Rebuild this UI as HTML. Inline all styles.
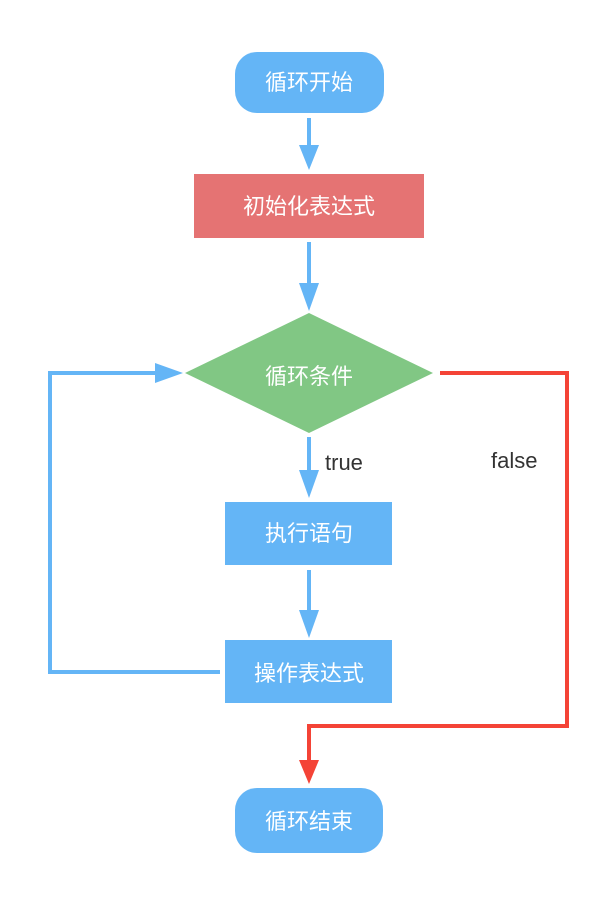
<!DOCTYPE html>
<html><head><meta charset="utf-8"><style>
html,body{margin:0;padding:0;background:#fff;width:615px;height:906px;overflow:hidden}
svg text{font-family:"Liberation Sans","Noto Sans CJK SC",sans-serif}
</style></head><body>
<svg width="615" height="906" viewBox="0 0 615 906" xmlns="http://www.w3.org/2000/svg">
<g stroke="#64b5f6" stroke-width="4" fill="none">
<line x1="309" y1="118" x2="309" y2="147"/>
<line x1="309" y1="242" x2="309" y2="285"/>
<line x1="309" y1="437" x2="309" y2="472"/>
<line x1="309" y1="570" x2="309" y2="612"/>
<polyline points="220,672 50,672 50,373 157,373"/>
</g>
<g fill="#64b5f6">
<polygon points="299,145 319,145 309,170"/>
<polygon points="299,283 319,283 309,311"/>
<polygon points="299,470 319,470 309,498"/>
<polygon points="299,610 319,610 309,638"/>
<polygon points="155,363 155,383 183,373"/>
</g>
<polyline points="440,373 567,373 567,726 309,726 309,762" stroke="#f44336" stroke-width="4" fill="none"/>
<polygon points="299,760 319,760 309,784" fill="#f44336"/>
<rect x="235" y="52" width="149" height="61" rx="22" fill="#64b5f6"/>
<rect x="194" y="174" width="230" height="64" fill="#e57373"/>
<polygon points="309,313 433,373 309,433 185,373" fill="#81c784"/>
<rect x="225" y="502" width="167" height="63" fill="#64b5f6"/>
<rect x="225" y="640" width="167" height="63" fill="#64b5f6"/>
<rect x="235" y="788" width="148" height="65" rx="22" fill="#64b5f6"/>
<g fill="#fff" font-size="22" text-anchor="middle">
<text x="309" y="90">循环开始</text>
<text x="309" y="214">初始化表达式</text>
<text x="309" y="384">循环条件</text>
<text x="309" y="541">执行语句</text>
<text x="309" y="681">操作表达式</text>
<text x="309" y="829">循环结束</text>
</g>
<g fill="#333" font-size="22">
<text x="325" y="470">true</text>
<text x="491" y="468">false</text>
</g>
</svg>
</body></html>
